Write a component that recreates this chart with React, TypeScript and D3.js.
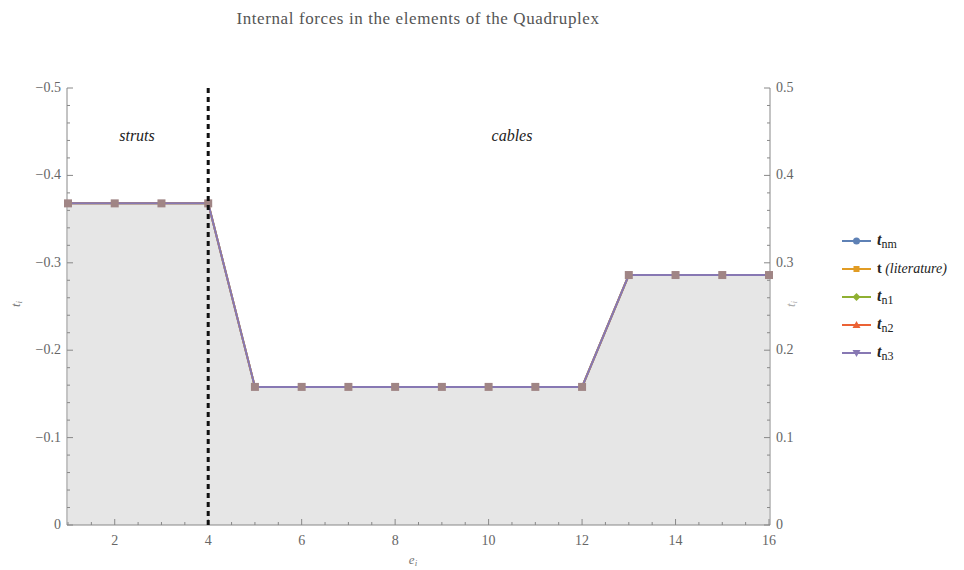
import React from "react";
import * as d3 from "d3";

const elements = [1, 2, 3, 4, 5, 6, 7, 8, 9, 10, 11, 12, 13, 14, 15, 16];
const forces = [0.368, 0.368, 0.368, 0.368, 0.158, 0.158, 0.158, 0.158, 0.158, 0.158, 0.158, 0.158, 0.286, 0.286, 0.286, 0.286];
const seriesNames = ["nm", "lit", "n1", "n2", "n3"];
const seriesColors = ["#5E81B5", "#E19C24", "#8FB032", "#EB6235", "#8778B3"];
const xTicks = [2, 4, 6, 8, 10, 12, 14, 16];
const yTicks = [0, 0.1, 0.2, 0.3, 0.4, 0.5];

const W = 964, H = 570;
const FONT = "Liberation Serif, DejaVu Serif, serif";
const fs = (size: number, extra: React.CSSProperties = {}) => ({ fontFamily: FONT, fontSize: size, ...extra });

export default function App() {
  const x = d3.scaleLinear().domain([1, 16]).range([68, 769]);
  const y = d3.scaleLinear().domain([0, 0.5]).range([525, 88]);
  const pts = elements.map((e, i) => [e, forces[i]] as [number, number]);
  const line = d3.line<[number, number]>().x(d => x(d[0])).y(d => y(d[1]));
  const area = d3.area<[number, number]>().x(d => x(d[0])).y0(y(0)).y1(d => y(d[1]));
  const xMinor = d3.range(1, 16.01, 0.5);
  const yMinor = d3.range(0, 0.501, 0.02);
  const legendY = (i: number) => 241 + i * 28;

  const marker = (cx: number, cy: number, i: number, color: string, key: string) => {
    if (i === 0) return <circle key={key} cx={cx} cy={cy} r={3.5} fill={color} />;
    if (i === 1) return <rect key={key} x={cx - 3} y={cy - 3} width={6} height={6} fill={color} />;
    if (i === 2) return <path key={key} d={`M${cx},${cy - 4}L${cx + 4},${cy}L${cx},${cy + 4}L${cx - 4},${cy}Z`} fill={color} />;
    if (i === 3) return <path key={key} d={`M${cx},${cy - 4}L${cx + 4},${cy + 3}L${cx - 4},${cy + 3}Z`} fill={color} />;
    return <path key={key} d={`M${cx},${cy + 4}L${cx + 4},${cy - 3}L${cx - 4},${cy - 3}Z`} fill={color} />;
  };

  const legendLabel = (i: number) => {
    if (i === 1)
      return (
        <>
          <tspan fontWeight="bold">t</tspan>
          <tspan fontStyle="italic"> (literature)</tspan>
        </>
      );
    const sub = ["nm", "", "n1", "n2", "n3"][i];
    return (
      <>
        <tspan fontStyle="italic" fontWeight="bold" style={{ fontSize: 16 }}>t</tspan>
        <tspan style={{ fontSize: 12 }} dy={3}>{sub}</tspan>
      </>
    );
  };

  return (
    <svg width={W} height={H} style={{ display: "block", position: "absolute", left: 0, top: 0, background: "#fff" }}>
      <text x={418} y={24} textAnchor="middle" style={fs(17, { letterSpacing: 0.6 })} fill="#555">
        Internal forces in the elements of the Quadruplex
      </text>

      <path d={area(pts) || ""} fill="#e6e6e6" />

      <line x1={67} x2={67} y1={88} y2={525} stroke="#888" strokeWidth={1} />
      <line x1={770} x2={770} y1={88} y2={525} stroke="#888" strokeWidth={1} />
      <line x1={67} x2={770} y1={525} y2={525} stroke="#888" strokeWidth={1} />

      {yMinor.map((v, i) => {
        const major = Math.abs(v * 10 - Math.round(v * 10)) < 1e-6;
        const len = major ? 6 : 3;
        return (
          <g key={"ym" + i}>
            <line x1={67} x2={67 + len} y1={y(v)} y2={y(v)} stroke="#888" />
            <line x1={770} x2={770 - len} y1={y(v)} y2={y(v)} stroke="#888" />
          </g>
        );
      })}
      {yTicks.map(v => (
        <g key={"yt" + v}>
          <text x={61} y={y(v) + 4} textAnchor="end" style={fs(14)} fill="#666">
            {v === 0 ? "0" : "\u2212" + d3.format(".1f")(v)}
          </text>
          <text x={776} y={y(v) + 4} textAnchor="start" style={fs(14)} fill="#666">
            {v === 0 ? "0" : d3.format(".1f")(v)}
          </text>
        </g>
      ))}
      {xMinor.map((v, i) => {
        const major = Math.abs(v % 2) < 1e-6;
        const len = major ? 6 : 3;
        return <line key={"xm" + i} x1={x(v)} x2={x(v)} y1={525} y2={525 - len} stroke="#888" />;
      })}
      {xTicks.map(v => (
        <text key={"xt" + v} x={x(v)} y={545} textAnchor="middle" style={fs(14)} fill="#666">
          {v}
        </text>
      ))}

      <text x={413} y={564} textAnchor="middle" style={fs(13, { fontStyle: "italic" })} fill="#777">
        e<tspan style={{ fontSize: 9 }} dy={2}>i</tspan>
      </text>
      <text transform="translate(20,304) rotate(-90)" textAnchor="middle" style={fs(13, { fontStyle: "italic" })} fill="#777">
        t<tspan style={{ fontSize: 9 }} dy={2}>i</tspan>
      </text>
      <text transform="translate(795,304) rotate(-90)" textAnchor="middle" style={fs(13, { fontStyle: "italic" })} fill="#aaa">
        t<tspan style={{ fontSize: 9 }} dy={2}>i</tspan>
      </text>

      <text x={137} y={141} textAnchor="middle" style={fs(16, { fontStyle: "italic" })} fill="#222">struts</text>
      <text x={512} y={141} textAnchor="middle" style={fs(16, { fontStyle: "italic" })} fill="#222">cables</text>

      {seriesNames.map((s, i) => (
        <path key={"l" + s} d={line(pts) || ""} fill="none" stroke={seriesColors[i]} strokeWidth={2} strokeOpacity={i === 4 ? 1 : 0.6} />
      ))}
      {pts.map((p, j) => (
        <rect key={"m" + j} x={x(p[0]) - 4} y={y(p[1]) - 4} width={8} height={8} fill="#a08585" />
      ))}

      <line x1={x(4)} x2={x(4)} y1={88} y2={525} stroke="#111" strokeWidth={3} strokeDasharray="5,4" />

      {seriesNames.map((s, i) => (
        <g key={"lg" + s}>
          <line x1={842} x2={871} y1={legendY(i)} y2={legendY(i)} stroke={seriesColors[i]} strokeWidth={2} />
          {marker(856.5, legendY(i), i, seriesColors[i], "lm" + s)}
          <text x={877} y={legendY(i) + 4} style={fs(14)} fill="#222">
            {legendLabel(i)}
          </text>
        </g>
      ))}
    </svg>
  );
}
